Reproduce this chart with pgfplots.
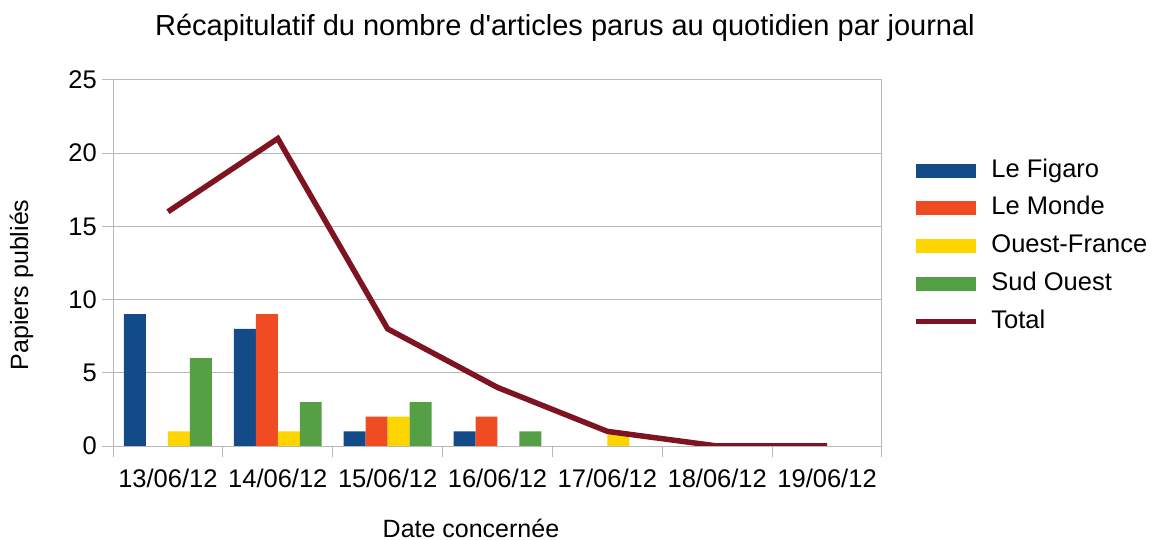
\documentclass[border=0pt]{standalone}
\usepackage{fontspec}
\setmainfont{Liberation Sans}
\usepackage{pgfplots}
\pgfplotsset{compat=1.18}
\definecolor{cFig}{HTML}{134A88}
\definecolor{cMon}{HTML}{F04C23}
\definecolor{cOF}{HTML}{FFD500}
\definecolor{cSO}{HTML}{55A045}
\definecolor{cTot}{HTML}{7E1321}
\definecolor{cGrid}{HTML}{B8B8B8}
\begin{document}
\begin{tikzpicture}
\useasboundingbox (0,0) rectangle (1155bp,540bp);
\node[anchor=base, font=\fontsize{29bp}{34bp}\selectfont, inner sep=0pt] at (565bp,504bp) {Récapitulatif du nombre d\textquotesingle articles parus au quotidien par journal};
\begin{axis}[
  at={(113bp,94bp)}, anchor=south west,
  scale only axis, width=769bp, height=366bp,
  xmin=-0.5, xmax=6.5, ymin=0, ymax=25,
  xtick={0,1,2,3,4,5,6},
  xticklabels={13/06/12,14/06/12,15/06/12,16/06/12,17/06/12,18/06/12,19/06/12},
  minor xtick={-0.5,0.5,1.5,2.5,3.5,4.5,5.5,6.5},
  ytick={0,5,10,15,20,25},
  tick align=outside, tick pos=left,
  major tick length=11bp, minor tick length=11bp,
  major x tick style={draw=none},
  minor x tick style={draw=cGrid, line width=1bp},
  ytick style={draw=cGrid, line width=1bp},
  ymajorgrids, major grid style={draw=cGrid, line width=1bp},
  axis line style={draw=cGrid, line width=1bp},
  /pgf/number format/assume math mode=true,
  tick label style={font=\fontsize{25.5bp}{30bp}\selectfont, inner sep=0pt},
  xticklabel style={anchor=north, yshift=-12bp},
  yticklabel style={anchor=east, xshift=-5bp},
  label style={font=\fontsize{25bp}{30bp}\selectfont, inner sep=0pt},
  xlabel={Date concernée},
  xlabel style={at={(axis description cs:0.4655,-0.2240)}, anchor=center},
  ylabel={Papiers publiés},
  ylabel style={at={(axis description cs:-0.119,0.440)}, anchor=center, rotate=0},
  legend style={at={(axis description cs:1.0403,0.784)}, anchor=north west,
    draw=none, fill=none, inner sep=0pt, row sep=14.7bp, column sep=0bp,
    font=\fontsize{25.5bp}{30bp}\selectfont,
    nodes={inner sep=0pt, text height=18bp, text depth=5bp}},
  legend cell align=left,
]
\addplot[ybar, bar width=0.2, bar shift=-0.3, fill=cFig, draw=none,
  legend image code/.code={\fill[cFig] (0bp,-7bp) rectangle (60bp,7bp);\path (73bp,0bp);}]
  coordinates {(0,9) (1,8) (2,1) (3,1) (4,0) (5,0) (6,0)};
\addlegendentry{Le Figaro}
\addplot[ybar, bar width=0.2, bar shift=-0.1, fill=cMon, draw=none,
  legend image code/.code={\fill[cMon] (0bp,-7bp) rectangle (60bp,7bp);\path (73bp,0bp);}]
  coordinates {(0,0) (1,9) (2,2) (3,2) (4,0) (5,0) (6,0)};
\addlegendentry{Le Monde}
\addplot[ybar, bar width=0.2, bar shift=0.1, fill=cOF, draw=none,
  legend image code/.code={\fill[cOF] (0bp,-7bp) rectangle (60bp,7bp);\path (73bp,0bp);}]
  coordinates {(0,1) (1,1) (2,2) (3,0) (4,1) (5,0) (6,0)};
\addlegendentry{Ouest-France}
\addplot[ybar, bar width=0.2, bar shift=0.3, fill=cSO, draw=none,
  legend image code/.code={\fill[cSO] (0bp,-7bp) rectangle (60bp,7bp);\path (73bp,0bp);}]
  coordinates {(0,6) (1,3) (2,3) (3,1) (4,0) (5,0) (6,0)};
\addlegendentry{Sud Ouest}
\addplot[sharp plot, draw=cTot, line width=5.5bp, line join=miter, mark=none,
  legend image code/.code={\draw[cTot, line width=5bp] (0bp,0bp) -- (60bp,0bp);\path (73bp,0bp);}]
  coordinates {(0,16) (1,21) (2,8) (3,4) (4,1) (5,0) (6,0)};
\addlegendentry{Total}
\end{axis}
\end{tikzpicture}
\end{document}
